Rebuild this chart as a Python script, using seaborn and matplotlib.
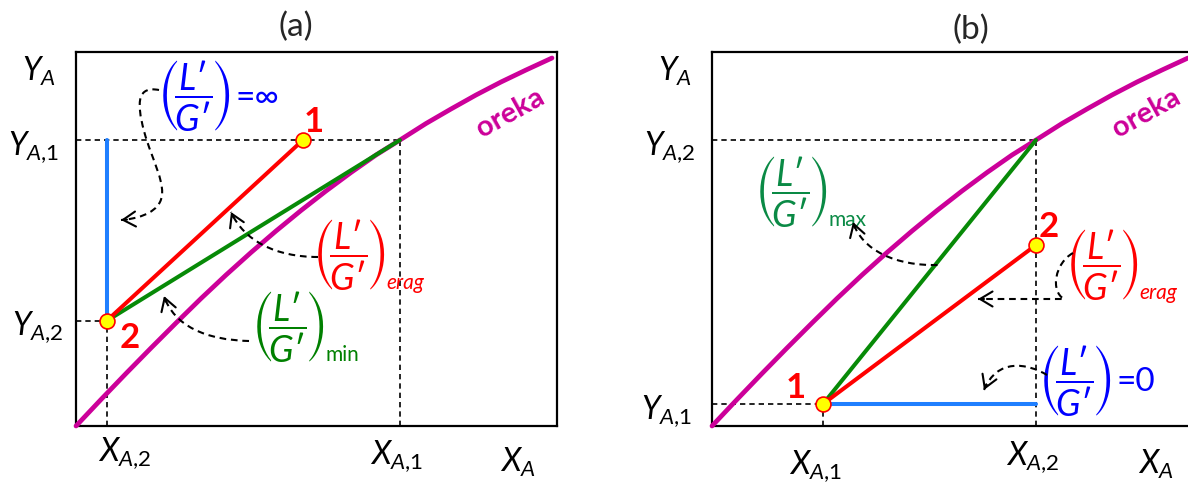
import matplotlib
matplotlib.use("Agg")
import matplotlib.pyplot as plt
import seaborn as sns
from matplotlib.path import Path
from matplotlib.patches import PathPatch

# ---- data (diagram units: x 0..481, y 0..374) ----
# equilibrium curve ("oreka"), shared by both panels
eq_x = [0, 25, 50, 75, 100, 125, 150, 175, 200, 225, 250, 275, 300, 324,
        350, 375, 400, 425, 450, 476]
eq_y = [0, 26.5, 52.5, 78, 103, 127.5, 151, 173.5, 195, 215.5, 235, 253.5,
        271, 286, 302.5, 317, 331, 344, 356, 368]

# panel (a): points 1 and 2, and the curve point at X_A,1
a_pt_x = [227, 30.5]
a_pt_y = [286, 105]
a_eq_pt = [324, 286]

# panel (b): points 1 and 2, and the curve point at X_A,2
b_pt_x = [111, 324]
b_pt_y = [22, 181]
b_eq_pt = [324, 286]

# ---- style ----
sns.set_theme(style="white")
plt.rcParams["font.family"] = ["Lato", "DejaVu Sans"]
plt.rcParams["mathtext.fontset"] = "custom"
plt.rcParams["mathtext.rm"] = "Lato"
plt.rcParams["mathtext.it"] = "Lato:italic"
plt.rcParams["mathtext.bf"] = "Lato:bold"
plt.rcParams["mathtext.fallback"] = "stixsans"

MAG = "#CC0099"
RED = "#FF0000"
GREEN = "#078A07"
BLUE_LINE = "#1F7FFF"
BLUE_TXT = "#0000FF"
GUIDE = dict(color="black", lw=1.2, ls=(0, (3.2, 2.4)), zorder=1)

W, H = 1188, 482
fig = plt.figure(figsize=(W / 100, H / 100), dpi=100)
ax_a = fig.add_axes([76 / W, (H - 426) / H, 481 / W, 374 / H])
ax_b = fig.add_axes([712 / W, (H - 426) / H, 481 / W, 374 / H])
renderer = fig.canvas.get_renderer()

for ax in (ax_a, ax_b):
    ax.set_xlim(0, 481)
    ax.set_ylim(0, 374)
    ax.set_xticks([])
    ax.set_yticks([])
    for s in ax.spines.values():
        s.set_color("black")
        s.set_linewidth(1.6)
        s.set_visible(True)
    sns.lineplot(x=eq_x, y=eq_y, ax=ax, color=MAG, lw=3.4, sort=False,
                 estimator=None, zorder=3, clip_on=False)
    ax.text(434, 313, "oreka", color=MAG, fontsize=21, fontweight="bold",
            rotation=29, ha="center", va="center", rotation_mode="anchor")


def seg(ax, p, q, color, lw=2.9, z=4):
    sns.lineplot(x=[p[0], q[0]], y=[p[1], q[1]], ax=ax, color=color, lw=lw,
                 sort=False, estimator=None, zorder=z)


def dashed_arrow(ax, verts, codes):
    ax.add_patch(PathPatch(Path(verts, codes), fill=False, ec="black", lw=1.5,
                           ls=(0, (3.2, 2.3)), zorder=6, clip_on=False))
    tx, ty = verts[-1]
    px, py = verts[-2]
    dx, dy = px - tx, py - ty
    n = (dx * dx + dy * dy) ** 0.5
    ax.annotate("", xy=(tx, ty), xytext=(tx + 6 * dx / n, ty + 6 * dy / n),
                arrowprops=dict(arrowstyle="->,head_length=0.75,head_width=0.45",
                                lw=1.5, color="black", shrinkA=0, shrinkB=0),
                zorder=6)


FRAC = "$\\left(\\!\\dfrac{L\u2032}{G\u2032}\\!\\right)$"


def ratio_label(ax, x, y, color, sub=None, sub_style="normal", tail=None):
    t = ax.text(x, y, FRAC, color=color, fontsize=26, ha="left", va="center")
    bb = t.get_window_extent(renderer).transformed(ax.transData.inverted())
    if sub:
        ax.text(bb.x1 + 1, bb.y0 + 4, sub, color=color, fontsize=15,
                style=sub_style, ha="left", va="baseline")
    if tail:
        ax.text(bb.x1 + 5, (bb.y0 + bb.y1) / 2 - 1, tail, color=color,
                fontsize=24, ha="left", va="center",
                family=["Lato", "DejaVu Sans"])


C3 = [Path.MOVETO, Path.CURVE4, Path.CURVE4, Path.CURVE4]
LAB = dict(fontsize=23, ha="center", va="center", color="black", clip_on=False)
PT = dict(color=RED, fontsize=25, fontweight="bold", ha="center", va="center")

# ---------------- panel (a) ----------------
ax = ax_a
p1 = (a_pt_x[0], a_pt_y[0])
p2 = (a_pt_x[1], a_pt_y[1])
ax.plot([0, a_eq_pt[0]], [a_eq_pt[1], a_eq_pt[1]], **GUIDE)
ax.plot([a_eq_pt[0], a_eq_pt[0]], [0, a_eq_pt[1]], **GUIDE)
ax.plot([0, p2[0]], [p2[1], p2[1]], **GUIDE)
ax.plot([p2[0], p2[0]], [0, p2[1]], **GUIDE)
seg(ax, p2, (p2[0], a_pt_y[0]), BLUE_LINE)
seg(ax, p2, a_eq_pt, GREEN)
seg(ax, p2, p1, RED)
ax.scatter(a_pt_x, a_pt_y, s=115, c="#FFFF00", edgecolors=RED, linewidths=1.2, zorder=7)
ax.text(238, 304, "1", **PT)
ax.text(53.5, 88, "2", **PT)

ax.text(220, 399, "(a)", fontsize=24, ha="center", va="center", clip_on=False)
ax.text(-37, 355, r"$Y_A$", **LAB)
ax.text(-42.5, 278.5, r"$Y_{A{,}1}$", **LAB)
ax.text(-38, 98.5, r"$Y_{A{,}2}$", **LAB)
ax.text(49, -27.5, r"$X_{A{,}2}$", **LAB)
ax.text(320.5, -30, r"$X_{A{,}1}$", **LAB)
ax.text(442, -36, r"$X_A$", **LAB)

ratio_label(ax, 81, 329.5, BLUE_TXT, tail="=\u221e")
ratio_label(ax, 236, 170.5, RED, sub="erag", sub_style="italic")
ratio_label(ax, 175, 98.5, "#008000", sub="min")

dashed_arrow(ax, [(83, 336), (62, 340), (60, 325), (68, 295),
                  (76, 265), (92, 240), (84, 224),
                  (78, 212), (60, 207), (45, 206)],
             [Path.MOVETO] + [Path.CURVE4] * 9)
dashed_arrow(ax, [(242, 169), (200, 169), (168, 185), (155, 214)], C3)
dashed_arrow(ax, [(173, 85), (130, 86), (98, 100), (88, 130)], C3)

# ---------------- panel (b) ----------------
ax = ax_b
q1 = (b_pt_x[0], b_pt_y[0])
q2 = (b_pt_x[1], b_pt_y[1])
ax.plot([0, b_eq_pt[0]], [b_eq_pt[1], b_eq_pt[1]], **GUIDE)
ax.plot([b_eq_pt[0], b_eq_pt[0]], [0, b_eq_pt[1]], **GUIDE)
ax.plot([0, q1[0]], [q1[1], q1[1]], **GUIDE)
ax.plot([q1[0], q1[0]], [0, q1[1]], **GUIDE)
seg(ax, q1, (b_pt_x[1], q1[1]), BLUE_LINE)
seg(ax, q1, b_eq_pt, GREEN)
seg(ax, q1, q2, RED)
ax.scatter(b_pt_x, b_pt_y, s=115, c="#FFFF00", edgecolors=RED, linewidths=1.2, zorder=7)
ax.text(84, 38, "1", **PT)
ax.text(337, 199, "2", **PT)

ax.text(259, 396, "(b)", fontsize=24, ha="center", va="center", clip_on=False)
ax.text(-37, 355, r"$Y_A$", **LAB)
ax.text(-42, 278.5, r"$Y_{A{,}2}$", **LAB)
ax.text(-45.5, 14.5, r"$Y_{A{,}1}$", **LAB)
ax.text(103.5, -40, r"$X_{A{,}1}$", **LAB)
ax.text(321, -31.5, r"$X_{A{,}2}$", **LAB)
ax.text(444, -38, r"$X_A$", **LAB)

ratio_label(ax, 41.7, 233.5, "#0A8A45", sub="max")
ratio_label(ax, 353, 160.5, RED, sub="erag", sub_style="italic")
ratio_label(ax, 326, 45, BLUE_TXT, tail="=0")

dashed_arrow(ax, [(225.5, 161), (185, 160), (150, 175), (141, 204)], C3)
dashed_arrow(ax, [(361, 173), (343, 163), (338, 135), (352, 127), (266, 127)],
             [Path.MOVETO, Path.CURVE4, Path.CURVE4, Path.CURVE4, Path.LINETO])
dashed_arrow(ax, [(335, 51), (315, 63), (285, 68), (272, 36)], C3)

fig.savefig("out.png", dpi=100)
